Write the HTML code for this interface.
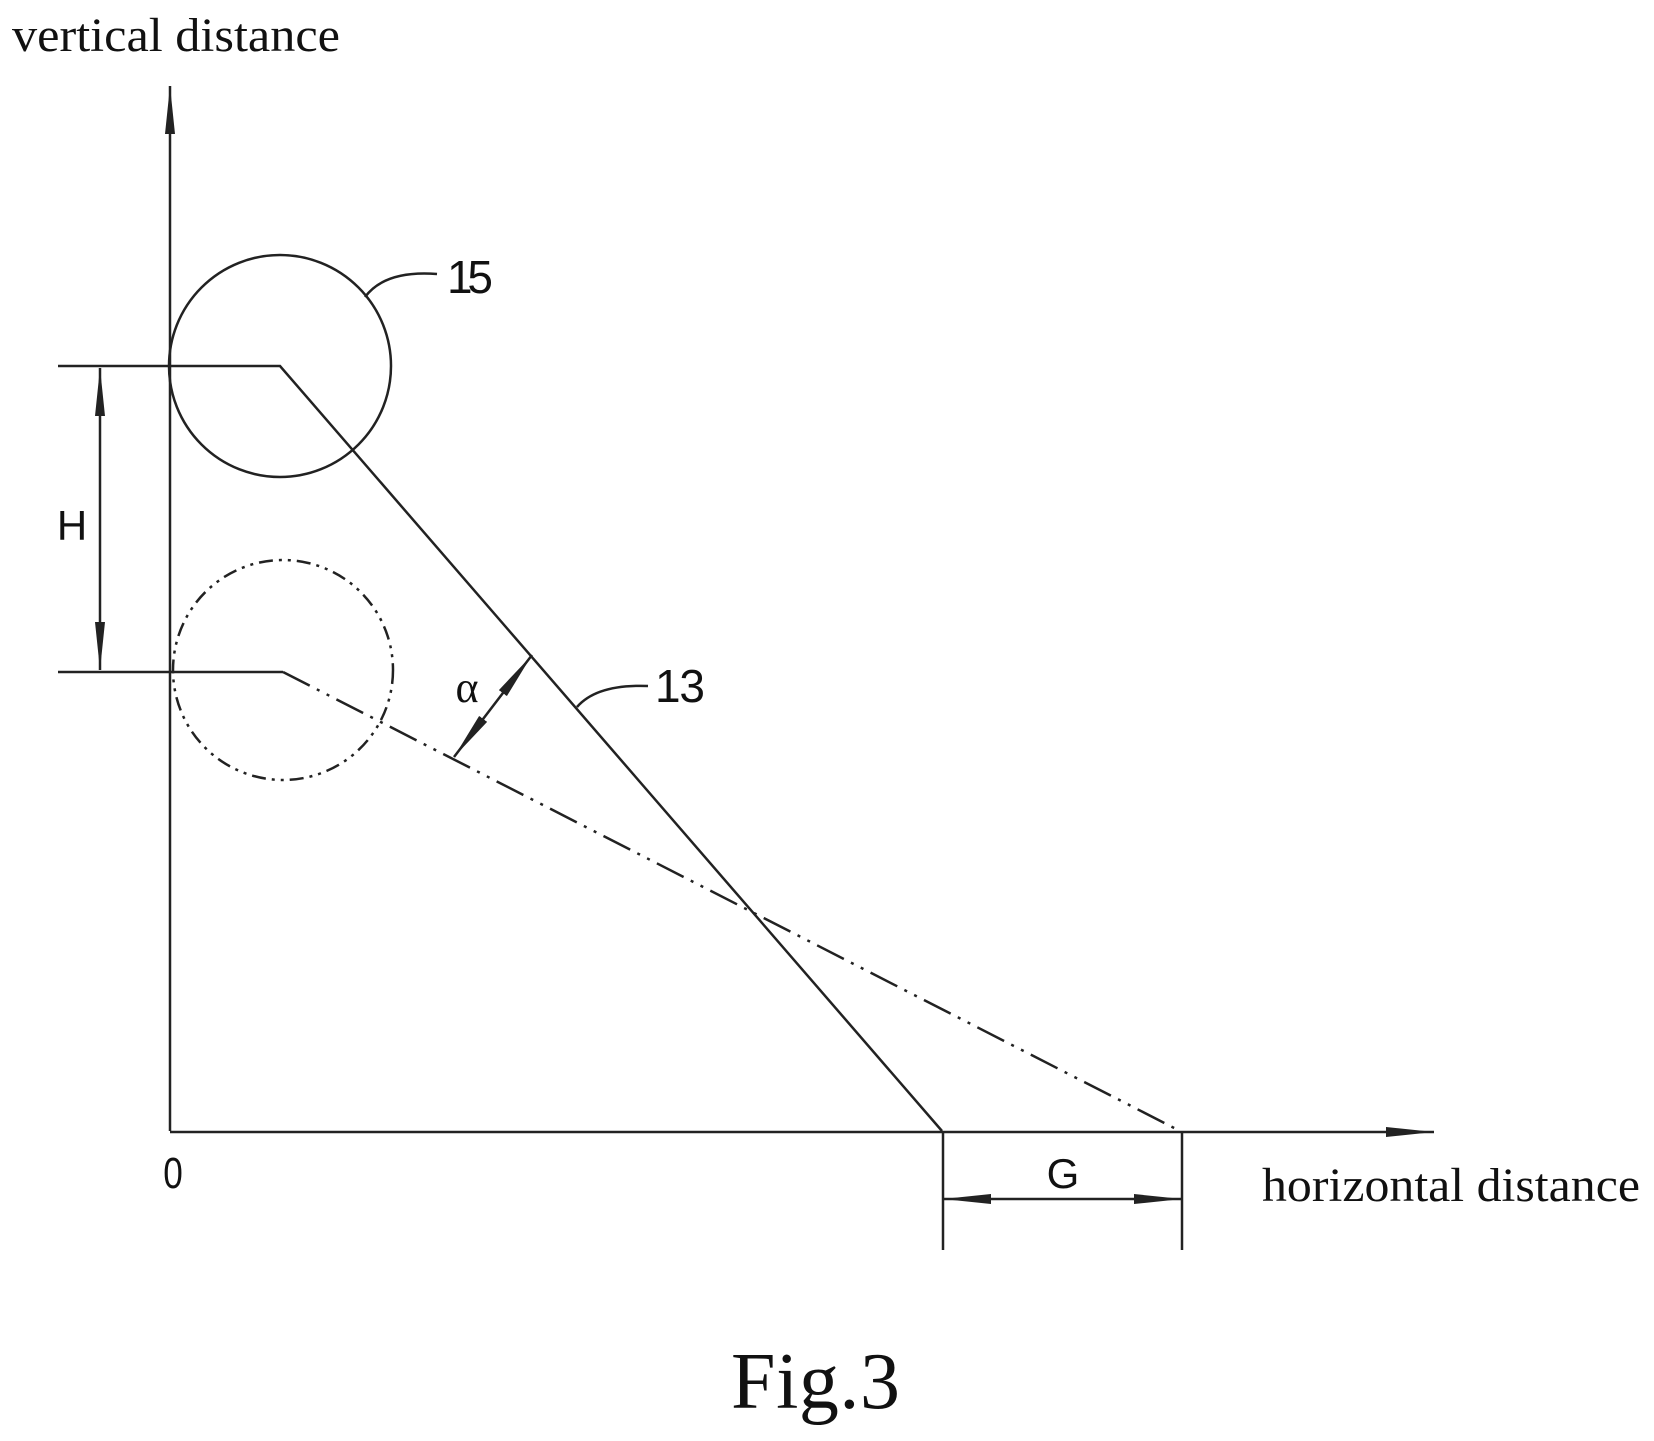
<!DOCTYPE html>
<html><head><meta charset="utf-8"><style>
html,body{margin:0;padding:0;background:#fff;}
svg{display:block;}
.serif{font-family:"Liberation Serif",serif;fill:#111;}
.sans{font-family:"Liberation Sans",sans-serif;fill:#111;}
</style></head><body>
<svg width="1654" height="1441" viewBox="0 0 1654 1441">
<defs>
<marker id="big" viewBox="0 0 48 14" refX="48" refY="7" markerWidth="48" markerHeight="14" markerUnits="userSpaceOnUse" orient="auto-start-reverse"><path d="M0,2 L48,7 L0,12 z" fill="#222"/></marker>
</defs>
<g stroke="#222" stroke-width="2.5" fill="none">
<line x1="170" y1="1131" x2="170" y2="86" marker-end="url(#big)"/>
<line x1="170" y1="1132" x2="1434" y2="1132" marker-end="url(#big)"/>
<circle cx="280" cy="366" r="111"/>
<circle cx="283" cy="670" r="110" stroke-dasharray="14,6,3,6,3,6"/>
<polyline points="58,366 280,366 942,1131"/>
<line x1="58" y1="672" x2="283" y2="672"/>
<line x1="283" y1="672" x2="1180" y2="1131" stroke-dasharray="30,8,3,8,3,8"/>
<line x1="100" y1="368" x2="100" y2="670" marker-start="url(#big)" marker-end="url(#big)"/>
<line x1="454" y1="757" x2="532" y2="655" marker-start="url(#big)" marker-end="url(#big)"/>
<line x1="943" y1="1131" x2="943" y2="1250"/>
<line x1="1182" y1="1131" x2="1182" y2="1250"/>
<line x1="943" y1="1199" x2="1182" y2="1199" marker-start="url(#big)" marker-end="url(#big)"/>
<path d="M365,297 Q385,270 437,274"/>
<path d="M577,707 Q597,684 648,686"/>
</g>
<text class="serif" x="12" y="51" font-size="48" textLength="328" lengthAdjust="spacingAndGlyphs">vertical distance</text>
<text class="serif" x="1262" y="1201" font-size="48" textLength="378" lengthAdjust="spacingAndGlyphs">horizontal distance</text>
<text class="sans" x="173" y="1188" font-size="44" text-anchor="middle" transform="translate(173,1188) scale(0.8,1) translate(-173,-1188)">0</text>
<text class="sans" x="447" y="293" font-size="46" textLength="46">15</text>
<text class="sans" x="655" y="702" font-size="46" textLength="50">13</text>
<text class="sans" x="72" y="540" font-size="42" text-anchor="middle">H</text>
<text class="serif" x="467" y="702" font-size="44" text-anchor="middle">α</text>
<text class="sans" x="1063" y="1188" font-size="42" text-anchor="middle">G</text>
<text class="serif" x="731" y="1408" font-size="80" textLength="169">Fig.3</text>
</svg>
</body></html>
